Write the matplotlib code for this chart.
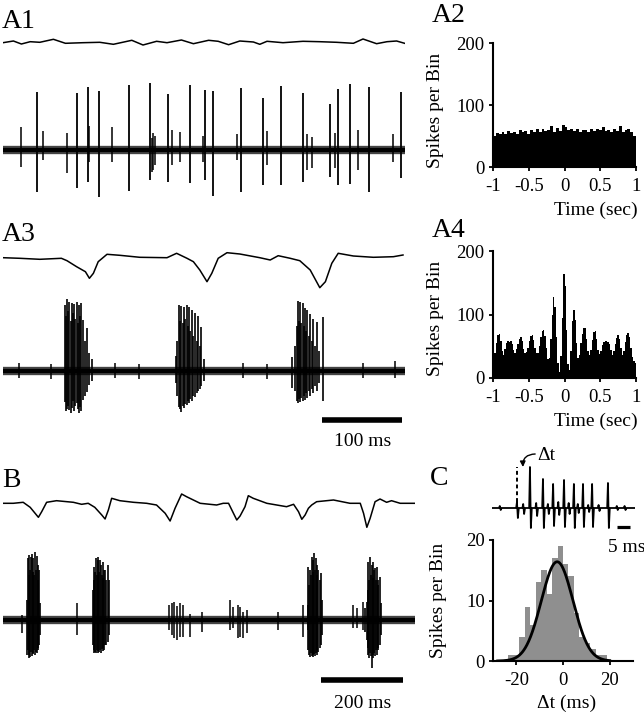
import numpy as np
import matplotlib
matplotlib.use('Agg')
import matplotlib.pyplot as plt

plt.rcParams['font.family'] = ['Liberation Serif', 'DejaVu Serif']
plt.rcParams['axes.unicode_minus'] = False

# ---------------- DATA ----------------
# A1: slow (field) trace, time in ms, amplitude in a.u.
a1_slow_t = [0, 13, 23, 34, 46, 63, 78, 100, 121, 138, 161, 175, 192, 205, 223, 238, 257, 269,
             282, 296, 313, 321, 330, 350, 375, 396, 417, 438, 450, 467, 480, 492, 502]
a1_slow_v = [-0.7, 1, -2, 0.3, -0.3, 2.7, -1.3, -0.7, -0.3, -2.3, 1.7, -3, 0.7, -0.7, 2, -1.7, 1.7, 0.7,
             -2.7, 1, 0, -2.3, 0.7, -0.7, 0.7, 0.3, -0.3, -1.3, 3, -1.7, 0.3, 1, -1.3]
# A1: unit trace, large spikes
a1_spk_t = [42, 93, 106, 120, 157, 184, 206, 234, 253, 263, 297, 325, 348, 375, 409, 419, 434, 458, 498]
a1_spk_up = [58, 57, 63, 59, 65, 67, 56, 65, 60, 59, 62, 52, 64, 57, 46, 61, 66, 63, 58]
a1_spk_dn = [42, 38, 32, 47, 41, 30, 32, 33, 30, 46, 42, 35, 35, 32, 27, 35, 34, 42, 28]
# A1: small spikes
a1_sm_t = [22, 50, 80, 108, 136, 186, 188, 190, 211, 221, 250, 292, 330, 380, 386, 415, 444, 488]
a1_sm_up = [23, 19, 17, 24, 23, 12, 17, 14, 20, 18, 14, 16, 19, 16, 13, 17, 20, 16]
a1_sm_dn = [17, 10, 23, 12, 12, 22, 20, 15, 15, 12, 12, 10, 15, 20, 18, 18, 20, 12]

# A3: slow trace
a3_slow_t = [0, 21, 46, 73, 80, 92, 103, 108, 113, 119, 130, 146, 171, 205, 217, 230, 238, 246, 255,
             261, 269, 280, 296, 321, 334, 344, 359, 371, 384, 396, 403, 411, 419, 438, 463, 488, 500]
a3_slow_v = [-0.7, -1.3, -2.3, -1.3, -3.7, -9.7, -14.7, -21.3, -16.3, -4.7, 2.7, 1.7, -0.3, -0.7, 3.7,
             -1.3, -4.7, -13, -24.7, -16.3, -1.3, 4.3, 3, -0.7, -3, 1.3, -1.3, -3.7, -13, -30.7, -24.7,
             -6.3, 3.7, 1, -0.3, 0.3, 2]
# A3: bursts
a3_spk_t = [77, 78.5, 80, 81.5, 83, 84.5, 86, 87.5, 89, 90.5, 92, 93.5, 95, 96.5, 98, 100, 102, 105, 108, 111,
            216, 218, 220, 221.5, 223, 224.5, 226, 227.5, 229.5, 231, 232.5, 234, 236, 238, 240, 242, 244, 246, 248, 251,
            361, 365, 367, 368.5, 370, 371.5, 373, 374.5, 376, 377.5, 379, 380.5, 382, 384, 386, 388, 390, 392, 395, 399.5]
a3_spk_up = [66, 55, 72, 60, 69, 50, 68, 58, 67, 52, 69, 48, 66, 55, 68, 51, 30, 43, 18, 12,
             15, 30, 66, 50, 65, 48, 64, 52, 66, 45, 64, 40, 61, 35, 58, 30, 55, 25, 44, 12,
             14, 25, 45, 70, 50, 69, 48, 68, 45, 63, 40, 61, 35, 57, 30, 52, 25, 49, 20, 54]
a3_spk_dn = [31, 40, 38, 35, 39, 42, 37, 30, 40, 35, 32, 38, 42, 36, 40, 29, 25, 21, 14, 10,
             12, 25, 36, 38, 41, 35, 37, 33, 34, 30, 32, 28, 30, 25, 26, 22, 20, 18, 15, 10,
             17, 20, 30, 32, 28, 31, 27, 30, 25, 29, 22, 27, 20, 25, 18, 22, 15, 20, 12, 30]
a3_sm_t = [20, 60, 140, 170, 300, 330, 450, 490]
a3_sm_up = [8, 7, 8, 7, 8, 7, 8, 10]
a3_sm_dn = [7, 8, 7, 8, 7, 8, 7, 7]

# B: slow trace
b_slow_t = [0, 25, 49, 66, 78, 86, 94, 106, 130, 171, 191, 207, 223, 240, 248, 256, 264, 284, 317, 349,
            373, 394, 406, 418, 434, 446, 479, 519, 535, 548, 556, 568, 576, 588, 596, 608, 641, 689,
            706, 718, 726, 734, 742, 750, 762, 803, 843, 868, 876, 884, 892, 904, 916, 932, 944, 965, 1001]
b_slow_v = [-0.3, -0.3, 0.7, -4.3, -10.3, -14.3, -8.7, 0.7, 2.3, 0.7, -1.3, -0.3, -4.3, -12, -16, -7, 4.7,
            2.3, 0.7, -0.3, -2, -10.3, -18, -5.3, 9, 6.3, -0.3, -2, -0.3, -0.3, -7, -17, -13, -3.7, 7.3,
            4.7, -0.3, -3.7, -1.3, -8.7, -16.3, -12, -5.3, -2, 1.3, 3, -0.3, -0.3, -10.3, -24.3, -15.3,
            1.3, 4, 0.7, 2.3, -0.3, -0.3]
# B: bursts
b_spk_t = [58, 60, 62, 64, 66, 68, 70, 72, 74, 76, 78, 80, 82, 84, 86, 88, 91,
           218, 220, 222, 224, 226, 228, 230, 232, 234, 236, 238, 240, 242, 244, 246, 248, 251, 254, 258,
           740, 742, 744, 746, 748, 750, 752, 754, 756, 758, 760, 762, 764, 766, 769, 772, 775,
           880, 884, 886, 888, 890, 892, 894, 896, 898, 900, 902, 904, 906, 908, 910, 912, 915, 918]
b_spk_up = [20, 62, 45, 65, 50, 63, 66, 48, 62, 45, 68, 50, 64, 40, 55, 50, 17,
            30, 53, 40, 48, 62, 45, 60, 63, 48, 60, 55, 45, 58, 42, 50, 50, 40, 55, 40,
            15, 53, 35, 50, 45, 63, 48, 60, 67, 50, 62, 45, 55, 50, 40, 47, 20,
            12, 18, 30, 58, 40, 63, 45, 55, 58, 42, 50, 52, 40, 53, 35, 40, 43, 17]
b_spk_dn = [35, 30, 38, 35, 37, 32, 36, 33, 34, 30, 35, 32, 33, 28, 30, 25, 15,
            25, 33, 30, 32, 33, 30, 33, 31, 32, 30, 33, 29, 31, 28, 30, 25, 25, 22, 15,
            10, 30, 35, 37, 33, 36, 35, 37, 34, 36, 33, 35, 30, 32, 28, 25, 15,
            12, 20, 28, 35, 38, 33, 36, 48, 38, 35, 33, 36, 30, 35, 28, 30, 25, 15]
# B: small spikes
b_sm_t = [45, 179, 404, 410, 415, 422, 430, 437, 454, 483, 552, 560, 570, 576, 584, 592, 669, 728, 851, 859, 874]
b_sm_up = [5, 17, 15, 17, 18, 14, 17, 15, 6, 8, 20, 13, 15, 13, 8, 10, 8, 15, 15, 12, 18]
b_sm_dn = [13, 15, 10, 15, 18, 20, 17, 17, 17, 12, 10, 8, 18, 17, 18, 13, 10, 17, 8, 8, 10]

# A2: cross-correlogram (50 bins, -1..1 s)
a2_counts = [50, 55, 53, 57, 54, 58, 55, 57, 53, 59, 56, 58, 54, 60, 57, 61, 56, 62, 58, 60,
             66, 57, 63, 58, 67, 65, 59, 62, 58, 61, 57, 60, 59, 56, 61, 58, 62, 60, 65, 58,
             60, 57, 61, 58, 66, 57, 59, 61, 56, 50]
# A4: cross-correlogram (100 bins, -1..1 s)
a4_counts = [30, 40, 55, 68, 70, 58, 42, 36, 45, 55, 58, 57, 58, 54, 44, 40, 45, 54, 62, 65,
             58, 46, 40, 41, 48, 58, 66, 67, 60, 47, 40, 40, 50, 64, 74, 76, 66, 48, 30, 32,
             62, 100, 127, 112, 64, 24, 10, 34, 95, 163, 145, 75, 22, 13, 42, 90, 107, 92, 55, 32,
             36, 55, 70, 78, 79, 62, 42, 36, 44, 60, 72, 74, 62, 44, 38, 42, 52, 57, 59, 58,
             57, 53, 44, 36, 42, 54, 63, 68, 62, 47, 37, 42, 56, 68, 71, 64, 47, 33, 26, 24]
hist_ticks = [-1, -0.5, 0, 0.5, 1]
hist_ticklabels = ['-1', '-0.5', '0', '0.5', '1']

# C: example burst (ms, a.u.)
c_spk_t = [9.6, 14.6, 19.6, 23.5, 27.7, 31.5, 35.0, 38.5, 44.6]
c_spk_up = [6, 41, 29, 24, 28, 24, 24, 24, 25]
c_spk_dn = [10, 20, 20, 18, 19, 20, 19, 19, 20]
c_sm_t = [3, 12, 17, 21.5, 25.5, 29.5, 33, 37, 41, 48, 51]
c_sm_up = [2, 4, 5, 4, 6, 5, 4, 3, 3, 2, 2]
c_sm_dn = [2, 6, 8, 6, 7, 6, 5, 4, 3, 2, 2]
c_dt_marks = [9.6, 14.6]
# C: histogram of delta t
c_counts = [1, 1, 4, 9, 6, 13, 15, 11, 17, 19, 16, 14, 8, 4, 3, 2, 1, 1]
c_bin_start = -23.5
c_bin_width = 2.35
c_fit_mu, c_fit_sigma, c_fit_amp = -2.5, 6.8, 16.4

# ---------------- FIGURE ----------------
W, H = 644, 720
fig = plt.figure(figsize=(W / 100, H / 100), dpi=100)
fig.patch.set_facecolor('white')

TICK_FS = 13.5
LAB_FS = 14


def px_axes(x0, x1, ytop, ybot):
    return fig.add_axes([x0 / W, 1 - ybot / H, (x1 - x0) / W, (ybot - ytop) / H])


def trace_axes(x0, x1, base, up, down, tmax):
    ax = px_axes(x0, x1, base - up, base + down)
    ax.set_xlim(0, tmax)
    ax.set_ylim(-down, up)
    ax.axis('off')
    return ax


def draw_fast(ax, tmax, groups):
    # noisy baseline: grey halo plus dark core
    ax.plot([0, tmax], [0, 0], color='#444444', lw=6.0, solid_capstyle='butt')
    ax.plot([0, tmax], [0, 0], color='k', lw=3.0, solid_capstyle='butt')
    for t, u, d, lw in groups:
        ax.vlines(t, -np.asarray(d, float), u, color='k', lw=lw)


def label(x, y, s):
    fig.text(x / W, 1 - y / H, s, fontsize=20, ha='left', va='baseline')


# ---- A1 ----
label(2, 28, 'A1')
ax = trace_axes(3, 405, 42, 12, 12, 502.5)
ax.plot(a1_slow_t, a1_slow_v, color='k', lw=1.1)
ax = trace_axes(3, 405, 150, 75, 55, 502.5)
draw_fast(ax, 502.5, [(a1_spk_t, a1_spk_up, a1_spk_dn, 1.3),
                      (a1_sm_t, a1_sm_up, a1_sm_dn, 1.1)])

# ---- A3 ----
label(2, 241, 'A3')
ax = trace_axes(3, 405, 257, 12, 38, 502.5)
ax.plot(a3_slow_t, a3_slow_v, color='k', lw=1.1)
ax = trace_axes(3, 405, 371, 78, 85, 502.5)
draw_fast(ax, 502.5, [(a3_spk_t, a3_spk_up, a3_spk_dn, 1.2),
                      (a3_sm_t, a3_sm_up, a3_sm_dn, 1.1)])
ax.plot([399, 499], [-49, -49], color='k', lw=4, solid_capstyle='butt')
ax.text(449, -70, '100 ms', fontsize=LAB_FS, ha='center', va='center')

# ---- B ----
label(2, 487, 'B')
ax = trace_axes(3, 415, 503, 15, 30, 1001)
ax.plot(b_slow_t, b_slow_v, color='k', lw=1.1)
ax = trace_axes(3, 415, 620, 75, 95, 1001)
draw_fast(ax, 1001, [(b_spk_t, b_spk_up, b_spk_dn, 1.2),
                     (b_sm_t, b_sm_up, b_sm_dn, 1.1)])
ax.plot([773, 973], [-60, -60], color='k', lw=4, solid_capstyle='butt')
ax.text(873, -83, '200 ms', fontsize=LAB_FS, ha='center', va='center')


# ---- histograms ----
def style_hist(ax):
    for s in ['top', 'right']:
        ax.spines[s].set_visible(False)
    for s in ['left', 'bottom']:
        ax.spines[s].set_linewidth(1.5)
    ax.tick_params(direction='out', length=3, width=1.3, labelsize=TICK_FS)
    ax.tick_params(axis='x', pad=5)
    ax.tick_params(axis='y', pad=3)
    ax.patch.set_visible(False)


for (ytop, ybot, counts, lab, lab_y, ylab_y, xlab_y) in [(43, 167, a2_counts, 'A2', 22, 0.46, -0.28),
                                                         (251, 378, a4_counts, 'A4', 237, 0.47, -0.27)]:
    label(432, lab_y, lab)
    ax = px_axes(493, 636, ytop, ybot)
    edges = np.linspace(-1, 1, len(counts) + 1)
    ax.stairs(counts, edges, fill=True, color='k')
    ax.set_xlim(-1, 1)
    ax.set_ylim(0, 200)
    ax.set_xticks(hist_ticks)
    ax.set_xticklabels(hist_ticklabels)
    ax.set_yticks([0, 100, 200])
    style_hist(ax)
    ax.set_ylabel('Spikes per Bin', fontsize=LAB_FS)
    ax.yaxis.set_label_coords(-0.34, ylab_y)
    ax.set_xlabel('Time (sec)', fontsize=LAB_FS)
    ax.xaxis.set_label_coords(0.72, xlab_y)

# ---- C ----
label(430, 485, 'C')
ax = trace_axes(492, 635, 508, 60, 45, 55)
# build biphasic spike waveforms from spike table
xs, ys = [0.0], [0.0]
events = sorted(list(zip(c_spk_t, c_spk_up, c_spk_dn)) + list(zip(c_sm_t, c_sm_up, c_sm_dn)))
for t, u, d in events:
    xs += [t - 0.3, t, t + 0.35, t + 0.7]
    ys += [0, u, -d, 0]
xs.append(55.0)
ys.append(0.0)
ax.plot(xs, ys, color='k', lw=1.3)
ax.vlines(c_dt_marks, 6, 41, colors='k', linestyles=(0, (2, 1.5)), lw=1.4)
ax.text(20.8, 52, 'Δt', fontsize=LAB_FS, ha='center', va='center')
ax.annotate('', xy=(11.9, 41), xytext=(16.6, 54),
            arrowprops=dict(arrowstyle='-|>', connectionstyle='arc3,rad=0.5',
                            color='k', lw=1.0, mutation_scale=8, shrinkA=0, shrinkB=0))
ax.plot([48, 53], [-19, -19], color='k', lw=2.3, solid_capstyle='butt')
ax.text(51.8, -39, '5 ms', fontsize=LAB_FS, ha='center', va='center')

ax = px_axes(493, 633, 540, 661)
edges = c_bin_start + c_bin_width * np.arange(len(c_counts) + 1)
ax.stairs(c_counts, edges, fill=True, color='#8f8f8f')
gx = np.linspace(-28, 20, 300)
ax.plot(gx, c_fit_amp * np.exp(-(gx - c_fit_mu) ** 2 / (2 * c_fit_sigma ** 2)), color='k', lw=2)
ax.set_xlim(-30, 30)
ax.set_ylim(0, 20)
ax.set_xticks([-20, 0, 20])
ax.set_yticks([0, 10, 20])
style_hist(ax)
ax.set_ylabel('Spikes per Bin', fontsize=LAB_FS)
ax.yaxis.set_label_coords(-0.33, 0.5)
ax.set_xlabel('Δt (ms)', fontsize=LAB_FS)
ax.xaxis.set_label_coords(0.525, -0.28)

fig.savefig('out.png', dpi=100, facecolor='white')
